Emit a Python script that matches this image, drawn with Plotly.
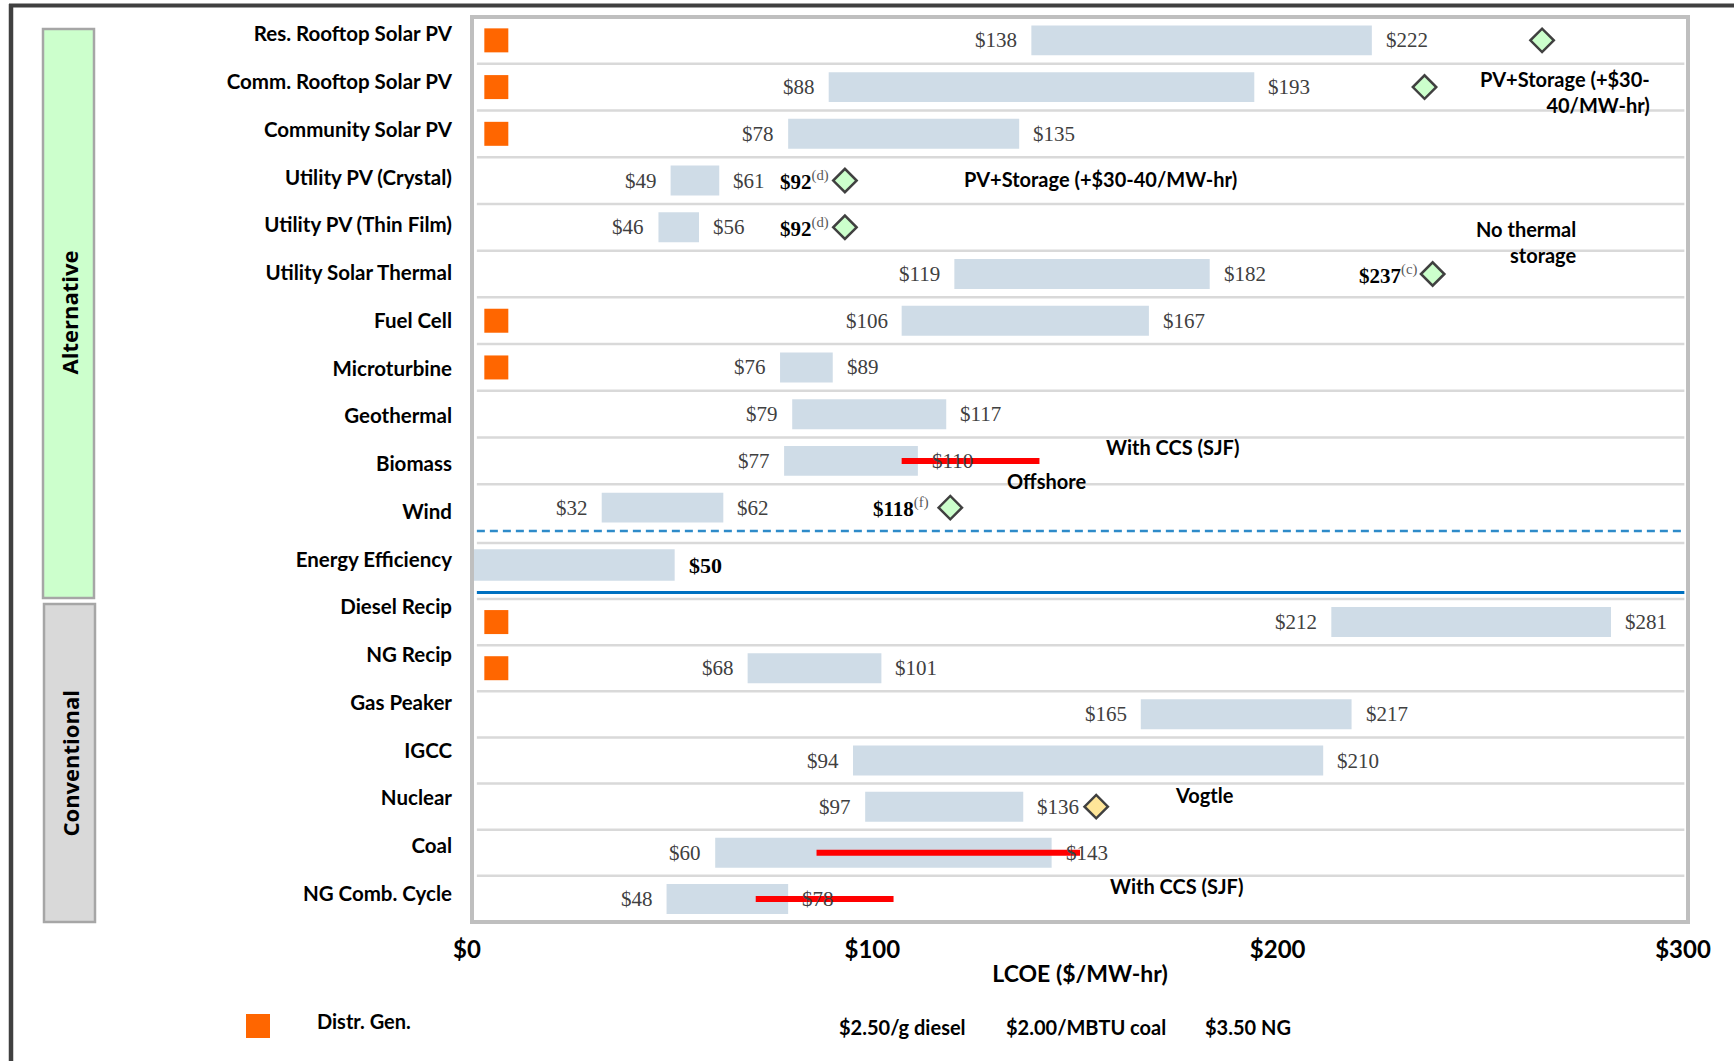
import plotly.graph_objects as go

# ---------------------------------------------------------------- data
categories = [
    "Res. Rooftop Solar PV", "Comm. Rooftop Solar PV", "Community Solar PV",
    "Utility PV (Crystal)", "Utility PV (Thin Film)", "Utility Solar Thermal",
    "Fuel Cell", "Microturbine", "Geothermal", "Biomass", "Wind",
    "Energy Efficiency",
    "Diesel Recip", "NG Recip", "Gas Peaker", "IGCC", "Nuclear", "Coal",
    "NG Comb. Cycle",
]
lcoe_low = [138, 88, 78, 49, 46, 119, 106, 76, 79, 77, 32, 0,
            212, 68, 165, 94, 97, 60, 48]
lcoe_high = [222, 193, 135, 61, 56, 182, 167, 89, 117, 110, 62, 50,
             281, 101, 217, 210, 136, 143, 78]

# technologies available as distributed generation
dg_categories = ["Res. Rooftop Solar PV", "Comm. Rooftop Solar PV",
                 "Community Solar PV", "Fuel Cell", "Microturbine",
                 "Diesel Recip", "NG Recip"]

# single-point estimates (storage add-on, no-storage thermal, offshore wind, Vogtle)
point_categories = ["Res. Rooftop Solar PV", "Comm. Rooftop Solar PV",
                    "Utility PV (Crystal)", "Utility PV (Thin Film)",
                    "Utility Solar Thermal", "Wind", "Nuclear"]
point_values = [264, 235, 92, 92, 237, 118, 154]
point_notes = [None, None, "(d)", "(d)", "(c)", "(f)", None]

# carbon capture ranges
ccs_categories = ["Biomass", "Coal", "NG Comb. Cycle"]
ccs_low = [106, 85, 70]
ccs_high = [140, 150, 104]

x_ticks = [0, 100, 200, 300]
x_tick_labels = ["$0", "$100", "$200", "$300"]
fuel_notes = ["$2.50/g diesel", "$2.00/MBTU coal", "$3.50 NG"]

# ---------------------------------------------------------------- geometry / style
W, H = 1734, 1061
L, R, T, B = 472, 1688, 17, 922          # plot area in pixels

SANS = "Lato"
SERIF = "Liberation Serif"
BOX = "Open Sans"
BAR_COLOR = "#CFDCE7"
DG_COLOR = "#FF6600"
SEP_COLOR = "#D9D9D9"
DG_MARKER_X = 6
POINT_LABEL_SHIFT = {"Wind": -19}        # pixel gap between point label and diamond


def px_x(xp):
    return (xp - L) / (R - L)


def px_y(yp):
    return (B - yp) / (B - T)


# three stacked panels: alternatives, energy efficiency, conventional
panels = [
    ("y", categories[:11], (T, 531), 0.64),
    ("y2", categories[11:12], (531, 599), 0.46),
    ("y3", categories[12:], (599, B), 0.65),
]
axis_of = {c: ax for ax, cats, _, _ in panels for c in cats}
lo_of = dict(zip(categories, lcoe_low))
hi_of = dict(zip(categories, lcoe_high))

fig = go.Figure()
layout_axes = {}

# category label axis spanning the full plot height (added first so it sits underneath)
fig.add_trace(go.Scatter(
    x=[None] * len(categories), y=categories, mode="markers",
    yaxis="y4", xaxis="x", showlegend=False, hoverinfo="skip",
))
layout_axes["yaxis4"] = dict(
    domain=[0, 1], anchor="x", type="category", categoryorder="array",
    categoryarray=categories, range=[18.595, -0.3625],
    showgrid=False, zeroline=False, showline=False, ticks="",
    ticklabelstandoff=19, fixedrange=True,
    tickfont=dict(family=SANS, size=20.5, color="black", weight="bold"),
)

for ax, cats, (top, bot), bw in panels:
    key = "yaxis" if ax == "y" else "yaxis" + ax[1:]
    layout_axes[key] = dict(
        domain=[px_y(bot), px_y(top)], anchor="x", type="category",
        categoryorder="array", categoryarray=cats,
        range=[len(cats) - 0.5, -0.5], showticklabels=False,
        showgrid=False, zeroline=False, showline=False, ticks="",
        fixedrange=True,
    )
    fig.add_trace(go.Bar(
        y=cats, base=[lo_of[c] for c in cats],
        x=[hi_of[c] - lo_of[c] for c in cats],
        orientation="h", width=bw, marker=dict(color=BAR_COLOR, line=dict(width=0)),
        yaxis=ax, xaxis="x", showlegend=False, hoverinfo="skip",
    ))
    dg = [c for c in dg_categories if axis_of[c] == ax]
    if dg:
        fig.add_trace(go.Scatter(
            x=[DG_MARKER_X] * len(dg), y=dg, mode="markers", yaxis=ax, xaxis="x",
            marker=dict(symbol="square", size=24, color=DG_COLOR, line=dict(width=0)),
            showlegend=False, hoverinfo="skip", name="Distr. Gen.",
        ))

# carbon capture ranges
for c, lo, hi in zip(ccs_categories, ccs_low, ccs_high):
    fig.add_trace(go.Scatter(
        x=[lo, hi], y=[c, c], mode="lines", yaxis=axis_of[c], xaxis="x",
        line=dict(color="#FF0000", width=6), showlegend=False, hoverinfo="skip",
    ))

# diamond point estimates
for c, v in zip(point_categories, point_values):
    fill = "#FFE699" if c == "Nuclear" else "#CCFFCC"
    fig.add_trace(go.Scatter(
        x=[v], y=[c], mode="markers", yaxis=axis_of[c], xaxis="x",
        marker=dict(symbol="diamond", size=18, color=fill,
                    line=dict(color="#404040", width=2.5)),
        showlegend=False, hoverinfo="skip",
    ))

# ---------------------------------------------------------------- annotations
ann = []
VALUE_FONT = dict(family=SERIF, size=21, color="#404040")
for c, lo, hi in zip(categories, lcoe_low, lcoe_high):
    ax = axis_of[c]
    if lo > 0:
        ann.append(dict(x=lo, y=c, xref="x", yref=ax, text=f"${lo}",
                        xanchor="right", yanchor="middle", xshift=-12,
                        showarrow=False, font=VALUE_FONT))
    if c == "Energy Efficiency":
        ann.append(dict(x=hi, y=c, xref="x", yref=ax, text=f"<b>${hi}</b>",
                        xanchor="left", yanchor="middle", xshift=12, showarrow=False,
                        font=dict(family=SERIF, size=22, color="black")))
    else:
        ann.append(dict(x=hi, y=c, xref="x", yref=ax, text=f"${hi}",
                        xanchor="left", yanchor="middle", xshift=12,
                        showarrow=False, font=VALUE_FONT))

for c, v, note in zip(point_categories, point_values, point_notes):
    if note:
        ann.append(dict(
            x=v, y=c, xref="x", yref=axis_of[c],
            text=f"<b>${v}</b><span style='color:#595959'><sup>{note}</sup></span>",
            xanchor="right", yanchor="middle",
            xshift=POINT_LABEL_SHIFT.get(c, -14), showarrow=False,
            font=dict(family=SERIF, size=21, color="black"),
        ))

NOTE_FONT = dict(family=SANS, size=20, color="black", weight="bold")
notes = [
    ("PV+Storage (+$30-<br>40/MW-hr)", 291, 1.105, "y", "right"),
    ("PV+Storage (+$30-40/MW-hr)", 121, 2.97, "y", "left"),
    ("No thermal<br>storage", 273, 4.31, "y", "right"),
    ("With CCS (SJF)", 156, 8.70, "y", "left"),
    ("Offshore", 131.5, 9.43, "y", "left"),
    ("Vogtle", 173, 3.75, "y3", "left"),
    ("With CCS (SJF)", 157, 5.72, "y3", "left"),
]
for text, x, y, yref, anchor in notes:
    ann.append(dict(x=x, y=y, xref="x", yref=yref, text=text, xanchor=anchor,
                    yanchor="middle", align=anchor, showarrow=False, font=NOTE_FONT))

# group boxes
BOX_FONT = dict(family=BOX, size=22, color="black", weight="bold")
ann.append(dict(x=px_x(68.5), y=px_y(313), xref="paper", yref="paper",
                text="Alternative", textangle=-90, xanchor="center",
                yanchor="middle", showarrow=False, font=BOX_FONT))
ann.append(dict(x=px_x(69.5), y=px_y(763), xref="paper", yref="paper",
                text="Conventional", textangle=-90, xanchor="center",
                yanchor="middle", showarrow=False, font=BOX_FONT))

# key and fuel price notes
ann.append(dict(x=px_x(315), y=px_y(1021), xref="paper", yref="paper",
                text="Distr. Gen.", xanchor="left", yanchor="middle",
                showarrow=False, font=NOTE_FONT))
for text, xl in zip(fuel_notes, [837, 1004, 1203]):
    ann.append(dict(x=px_x(xl), y=px_y(1027), xref="paper", yref="paper",
                    text=text, xanchor="left", yanchor="middle",
                    showarrow=False, font=NOTE_FONT))

# ---------------------------------------------------------------- shapes
shapes = []


def hline(yref, y, color=SEP_COLOR, width=2.5, dash="solid", layer="below"):
    shapes.append(dict(type="line", xref="paper", yref=yref, x0=0.004, x1=0.997,
                       y0=y, y1=y, layer=layer,
                       line=dict(color=color, width=width, dash=dash)))


for i in range(10):
    hline("y", i + 0.5)
for i in range(6):
    hline("y3", i + 0.5)
hline("y3 domain", 1.0)
hline("y2 domain", (599 - 543) / 68)
hline("y2 domain", 1.0, color="#2E8BC9", width=2.5, dash="8px,5px", layer="above")
hline("y2 domain", (599 - 592.5) / 68, color="#0070C0", width=3, layer="above")

# plot frame
shapes.append(dict(type="rect", xref="paper", yref="paper", x0=0, x1=1, y0=0, y1=1,
                   line=dict(color="#BFBFBF", width=4), layer="above"))

# group boxes
shapes.append(dict(type="rect", xref="paper", yref="paper",
                   x0=px_x(43), x1=px_x(94), y0=px_y(598), y1=px_y(29),
                   fillcolor="#CCFFCC", line=dict(color="#A6A6A6", width=2.5),
                   layer="below"))
shapes.append(dict(type="rect", xref="paper", yref="paper",
                   x0=px_x(44), x1=px_x(95), y0=px_y(922), y1=px_y(604),
                   fillcolor="#D9D9D9", line=dict(color="#A6A6A6", width=2.5),
                   layer="below"))

# key swatch
shapes.append(dict(type="rect", xref="paper", yref="paper",
                   x0=px_x(246), x1=px_x(270), y0=px_y(1038), y1=px_y(1014),
                   fillcolor=DG_COLOR, line=dict(width=0)))

# outer frame
shapes.append(dict(type="line", xref="paper", yref="paper",
                   x0=px_x(9), x1=px_x(W + 5), y0=px_y(5.5), y1=px_y(5.5),
                   line=dict(color="#404040", width=4)))
shapes.append(dict(type="line", xref="paper", yref="paper",
                   x0=px_x(11), x1=px_x(11), y0=px_y(4), y1=px_y(H + 5),
                   line=dict(color="#404040", width=4.5)))

# ---------------------------------------------------------------- layout
fig.update_layout(
    width=W, height=H,
    margin=dict(l=L, r=W - R, t=T, b=H - B, autoexpand=False),
    paper_bgcolor="white", plot_bgcolor="rgba(0,0,0,0)",
    showlegend=False, barmode="overlay",
    xaxis=dict(
        range=[0, 300], tickmode="array", tickvals=x_ticks, ticktext=x_tick_labels,
        anchor="y3", showgrid=False, zeroline=False, showline=False, ticks="",
        ticklabelstandoff=11, ticklabelshift=-5, fixedrange=True,
        tickfont=dict(family=SANS, size=24, color="black", weight="bold"),
        title=dict(text="LCOE ($/MW-hr)", standoff=3,
                   font=dict(family=SANS, size=23, color="black", weight="bold")),
    ),
    annotations=ann,
    shapes=shapes,
    **layout_axes,
)

fig.write_html("out.html")
